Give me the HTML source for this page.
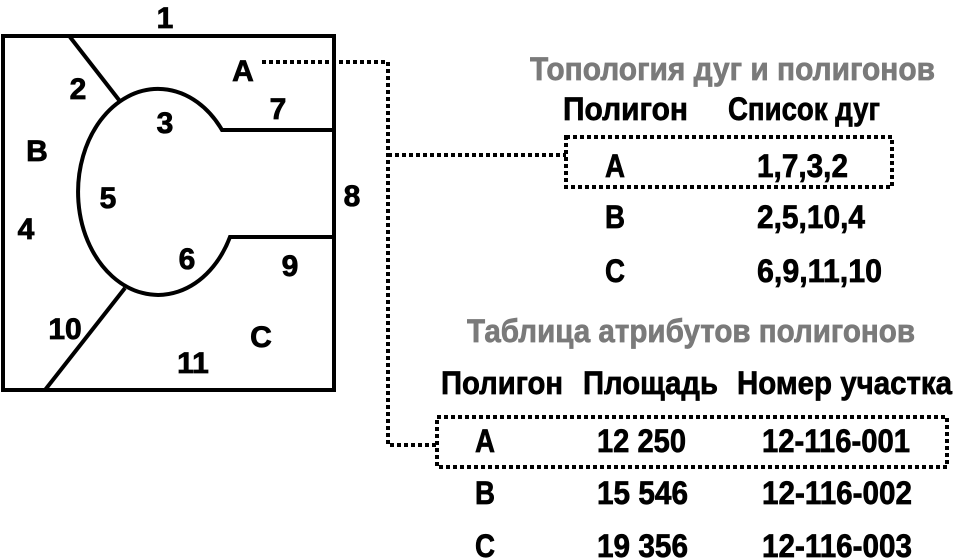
<!DOCTYPE html>
<html><head><meta charset="utf-8"><style>html,body{margin:0;padding:0;background:#fff}svg{display:block}</style></head>
<body>
<svg width="958" height="560" viewBox="0 0 958 560" xmlns="http://www.w3.org/2000/svg" font-family="'Liberation Sans', sans-serif" font-weight="bold">
<g fill="none" stroke="#000" stroke-width="4">
<rect x="3" y="36" width="331" height="354"/>
<path d="M70,37 L119,100"/>
<path d="M334,130 L222,130 A80,103 0 1 0 230,237 L334,237"/>
<path d="M125,288 L45,390"/>
</g>
<g fill="none" stroke="#000" stroke-width="4" stroke-dasharray="4,3">
<path d="M262,62 H388 V445 H437"/>
<path d="M388,155 H566"/>
<rect x="566" y="137" width="326" height="50"/>
<rect x="437" y="417" width="510" height="50"/>
</g>
<g font-size="30" text-anchor="middle" fill="#000" stroke="#000" stroke-width="0.8">
<text x="165" y="28">1</text>
<text x="78" y="99">2</text>
<text x="243" y="81">A</text>
<text x="278" y="119">7</text>
<text x="165" y="133">3</text>
<text x="37" y="161">B</text>
<text x="108" y="208">5</text>
<text x="352" y="206">8</text>
<text x="26" y="239">4</text>
<text x="187" y="269">6</text>
<text x="290" y="276">9</text>
<text x="65" y="339">10</text>
<text x="261" y="347">C</text>
<text x="193" y="373">11</text>
</g>
<g font-size="32" fill="#000" stroke="#000" stroke-width="0.7">
<text x="530" y="80" fill="#7a7a7a" stroke="#7a7a7a" textLength="405" lengthAdjust="spacingAndGlyphs">Топология дуг и полигонов</text>
<text x="563" y="120" textLength="125" lengthAdjust="spacingAndGlyphs">Полигон</text>
<text x="728" y="120" textLength="152" lengthAdjust="spacingAndGlyphs">Список дуг</text>
<text x="605" y="177" textLength="20" lengthAdjust="spacingAndGlyphs">A</text>
<text x="757" y="177" textLength="91" lengthAdjust="spacingAndGlyphs">1,7,3,2</text>
<text x="605" y="228" textLength="20" lengthAdjust="spacingAndGlyphs">B</text>
<text x="757" y="228" textLength="108" lengthAdjust="spacingAndGlyphs">2,5,10,4</text>
<text x="605" y="282" textLength="20" lengthAdjust="spacingAndGlyphs">C</text>
<text x="757" y="282" textLength="125" lengthAdjust="spacingAndGlyphs">6,9,11,10</text>
<text x="467" y="342" fill="#7a7a7a" stroke="#7a7a7a" textLength="448" lengthAdjust="spacingAndGlyphs">Таблица атрибутов полигонов</text>
<text x="441" y="394" textLength="122" lengthAdjust="spacingAndGlyphs">Полигон</text>
<text x="583" y="394" textLength="135" lengthAdjust="spacingAndGlyphs">Площадь</text>
<text x="737" y="394" textLength="215" lengthAdjust="spacingAndGlyphs">Номер участка</text>
<text x="475" y="452" textLength="20" lengthAdjust="spacingAndGlyphs">A</text>
<text x="597" y="452" textLength="89" lengthAdjust="spacingAndGlyphs">12 250</text>
<text x="762" y="452" textLength="148" lengthAdjust="spacingAndGlyphs">12-116-001</text>
<text x="475" y="504" textLength="20" lengthAdjust="spacingAndGlyphs">B</text>
<text x="597" y="504" textLength="91" lengthAdjust="spacingAndGlyphs">15 546</text>
<text x="762" y="504" textLength="150" lengthAdjust="spacingAndGlyphs">12-116-002</text>
<text x="475" y="557" textLength="20" lengthAdjust="spacingAndGlyphs">C</text>
<text x="597" y="557" textLength="91" lengthAdjust="spacingAndGlyphs">19 356</text>
<text x="762" y="557" textLength="150" lengthAdjust="spacingAndGlyphs">12-116-003</text>
</g>
</svg>
</body></html>
